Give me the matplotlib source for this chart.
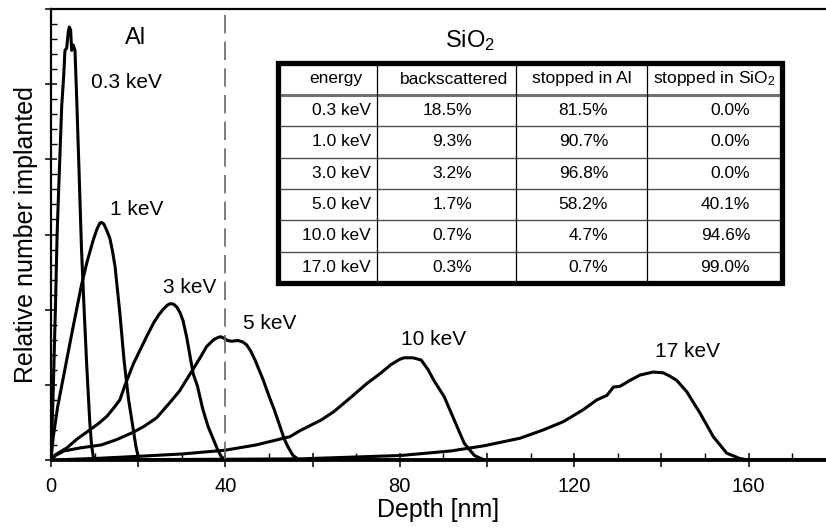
import matplotlib
matplotlib.use("Agg")
import matplotlib.pyplot as plt
from matplotlib.patches import Rectangle
from matplotlib.ticker import MultipleLocator, FixedLocator

plt.rcParams['font.family'] = ['Liberation Sans', 'DejaVu Sans']
plt.rcParams['mathtext.fontset'] = 'custom'
plt.rcParams['mathtext.rm'] = 'Liberation Sans'
plt.rcParams['mathtext.it'] = 'Liberation Sans:italic'

# ---------------- data ----------------
x_03 = [0, 0.5, 1.0, 1.4, 1.7, 2.45, 2.9, 3.2, 3.6, 3.97, 4.2, 4.5, 4.74, 5.1, 5.5, 5.9, 6.4, 7.0, 7.6, 8.2, 8.9, 9.3, 9.8, 180]
y_03 = [0, 0.9, 2.0, 3.0, 3.5, 4.7, 5.1, 5.45, 5.48, 5.70, 5.76, 5.72, 5.45, 5.52, 5.45, 4.8, 3.9, 2.8, 2.0, 1.25, 0.5, 0.2, 0, 0]

x_1 = [0, 0.5, 1.5, 3.0, 5.0, 7.0, 8.2, 9.7, 10.6, 11.2, 11.6, 12.1, 12.6, 13.5, 14.1, 14.7, 15.8, 16.8, 17.8, 18.7, 19.5, 20.2, 180]
y_1 = [0, 0.3, 0.7, 1.15, 1.75, 2.33, 2.62, 2.93, 3.08, 3.15, 3.16, 3.14, 3.08, 2.95, 2.78, 2.57, 1.95, 1.3, 0.8, 0.47, 0.17, 0, 0]

x_3 = [0, 1.0, 3.6, 6.0, 8.9, 11.0, 12.8, 14.5, 15.8, 17.0, 18.9, 20.4, 22.0, 23.5, 24.7, 25.8, 26.5, 27.1, 27.6, 28.2, 28.9, 29.6, 30.3, 31.1, 32.6, 33.6, 34.8, 36.0, 37.2, 38.2, 39.0, 40.0, 180]
y_3 = [0, 0.07, 0.16, 0.28, 0.40, 0.49, 0.58, 0.70, 0.80, 1.00, 1.28, 1.46, 1.65, 1.82, 1.93, 2.01, 2.05, 2.075, 2.08, 2.07, 2.03, 1.96, 1.85, 1.64, 1.15, 0.98, 0.68, 0.45, 0.28, 0.14, 0.05, 0, 0]

x_5 = [0, 1.0, 3.0, 6.6, 11.5, 15.0, 18.9, 21.4, 24.2, 27.5, 29.5, 31.1, 32.5, 34.4, 35.7, 37.3, 38.3, 38.9, 39.7, 40.5, 41.4, 42.9, 44.0, 44.9, 45.8, 46.8, 48.7, 50.0, 51.2, 52.5, 53.5, 54.3, 55.5, 57.0, 180]
y_5 = [0, 0.06, 0.12, 0.16, 0.20, 0.27, 0.37, 0.45, 0.56, 0.78, 0.92, 1.07, 1.20, 1.38, 1.51, 1.60, 1.63, 1.64, 1.62, 1.59, 1.58, 1.59, 1.57, 1.53, 1.45, 1.33, 1.06, 0.85, 0.67, 0.45, 0.28, 0.18, 0.06, 0, 0]

x_10 = [0, 5, 10, 20.4, 30, 39.9, 47, 54.8, 57.1, 61.9, 64.8, 68.5, 72.5, 75.5, 78, 80, 81, 83, 84.9, 86.5, 87.8, 90.2, 92.5, 94.8, 97.1, 99.4, 180]
y_10 = [0, 0.01, 0.02, 0.05, 0.08, 0.13, 0.20, 0.31, 0.39, 0.53, 0.64, 0.82, 1.02, 1.15, 1.27, 1.34, 1.36, 1.36, 1.33, 1.20, 1.06, 0.84, 0.53, 0.22, 0.06, 0, 0]

x_17 = [0, 20, 40, 57.1, 80.2, 91.7, 99.4, 107.6, 112.9, 117.5, 122.1, 125.2, 127.5, 129.0, 130.5, 132.8, 135.1, 138.1, 140.4, 141.8, 143.5, 145.8, 148.9, 151.9, 155.0, 158.0, 160.0, 180]
y_17 = [0, 0.005, 0.01, 0.015, 0.06, 0.12, 0.19, 0.29, 0.40, 0.51, 0.67, 0.80, 0.86, 0.97, 0.98, 1.06, 1.13, 1.17, 1.16, 1.12, 1.06, 0.91, 0.62, 0.31, 0.09, 0.02, 0, 0]

curve_x = [x_03, x_1, x_3, x_5, x_10, x_17]
curve_y = [y_03, y_1, y_3, y_5, y_10, y_17]
curve_labels = ['0.3 keV', '1 keV', '3 keV', '5 keV', '10 keV', '17 keV']
label_pos = [(17.2, 5.02), (19.7, 3.33), (31.7, 2.29), (50.2, 1.82), (87.8, 1.60), (146.0, 1.44)]

interface_depth = 40
layer_names = ['Al', 'SiO$_2$']
layer_pos = [(19.3, 5.61), (96.1, 5.58)]

xtick_major = [0, 20, 40, 60, 80, 100, 120, 140, 160]
xtick_labels = ['0', '', '40', '', '80', '', '120', '', '160']

table_header = ['energy', 'backscattered', 'stopped in Al', 'stopped in SiO$_2$']
energies = ['0.3 keV', '1.0 keV', '3.0 keV', '5.0 keV', '10.0 keV', '17.0 keV']
backscattered = ['18.5%', '9.3%', '3.2%', '1.7%', '0.7%', '0.3%']
stopped_al = ['81.5%', '90.7%', '96.8%', '58.2%', '4.7%', '0.7%']
stopped_sio2 = ['0.0%', '0.0%', '0.0%', '40.1%', '94.6%', '99.0%']

# ---------------- figure ----------------
W, H = 826, 530
fig = plt.figure(figsize=(W / 100, H / 100), dpi=100)
ax = fig.add_axes([51 / W, (H - 460) / H, (W - 51) / W, (460 - 9) / H])

for xs, ys in zip(curve_x, curve_y):
    ax.plot(xs, ys, color='black', lw=2.2, solid_joinstyle='round', solid_capstyle='round')

ax.axvline(interface_depth, color='#666666', lw=1.2, dashes=(11, 5))

for lab, (lx, ly) in zip(curve_labels, label_pos):
    ax.text(lx, ly, lab, fontsize=15, ha='center', va='center')
for lab, (lx, ly) in zip(layer_names, layer_pos):
    ax.text(lx, ly, lab, fontsize=17, ha='center', va='center')

ax.set_xlim(0, (W - 51) / 4.36)
ax.set_ylim(0, 6)
ax.xaxis.set_major_locator(FixedLocator(xtick_major))
ax.set_xticklabels(xtick_labels)
ax.xaxis.set_minor_locator(MultipleLocator(10))
ax.yaxis.set_major_locator(MultipleLocator(1))
ax.yaxis.set_minor_locator(MultipleLocator(0.2))
ax.set_yticklabels([])
ax.tick_params(axis='x', which='major', direction='inout', length=10, width=1.1, labelsize=14.5, pad=7)
ax.tick_params(axis='x', which='minor', direction='in', length=5, width=1.0)
ax.tick_params(axis='y', which='major', direction='inout', length=8, width=1.1)
ax.tick_params(axis='y', which='minor', direction='in', length=4, width=1.0)
ax.spines['right'].set_visible(False)
ax.spines['left'].set_linewidth(1.6)
ax.spines['bottom'].set_linewidth(2.0)
ax.spines['top'].set_linewidth(1.6)

ax.set_xlabel('Depth [nm]', fontsize=18, labelpad=2)
ax.set_ylabel('Relative number implanted', fontsize=18, labelpad=2)

# ---------------- table ----------------
tx0, ty0, tw, th = 278, 63, 504, 220
tax = fig.add_axes([tx0 / W, (H - ty0 - th) / H, tw / W, th / H])
tax.set_xlim(0, tw)
tax.set_ylim(th, 0)
tax.axis('off')
tax.add_patch(Rectangle((0, 0), tw, th, facecolor='white', edgecolor='none', zorder=0))

col_edges = [0, 99, 238, 369, 504]
header_h = 32
row_h = (th - header_h) / len(energies)
right_pad = [6, 44, 39, 32]

columns = [energies, backscattered, stopped_al, stopped_sio2]
for j, head in enumerate(table_header):
    cx = (col_edges[j] + col_edges[j + 1]) / 2 + (8 if j in (0, 1) else 0)
    tax.text(cx, header_h / 2, head, fontsize=12.5, ha='center', va='center')
for j, col in enumerate(columns):
    for i, val in enumerate(col):
        cy = header_h + (i + 0.5) * row_h
        tax.text(col_edges[j + 1] - right_pad[j], cy, val, fontsize=12.5, ha='right', va='center')

tax.plot([0, tw], [header_h, header_h], color='#707070', lw=2.2)
for i in range(1, len(energies)):
    yy = header_h + i * row_h
    tax.plot([0, tw], [yy, yy], color='#505050', lw=1.0)
for xe in col_edges[1:-1]:
    tax.plot([xe, xe], [0, th], color='black', lw=0.9)
tax.add_patch(Rectangle((0, 0), tw, th, facecolor='none', edgecolor='black', lw=3.8, zorder=5, clip_on=False))

fig.savefig('out.png', dpi=100)
